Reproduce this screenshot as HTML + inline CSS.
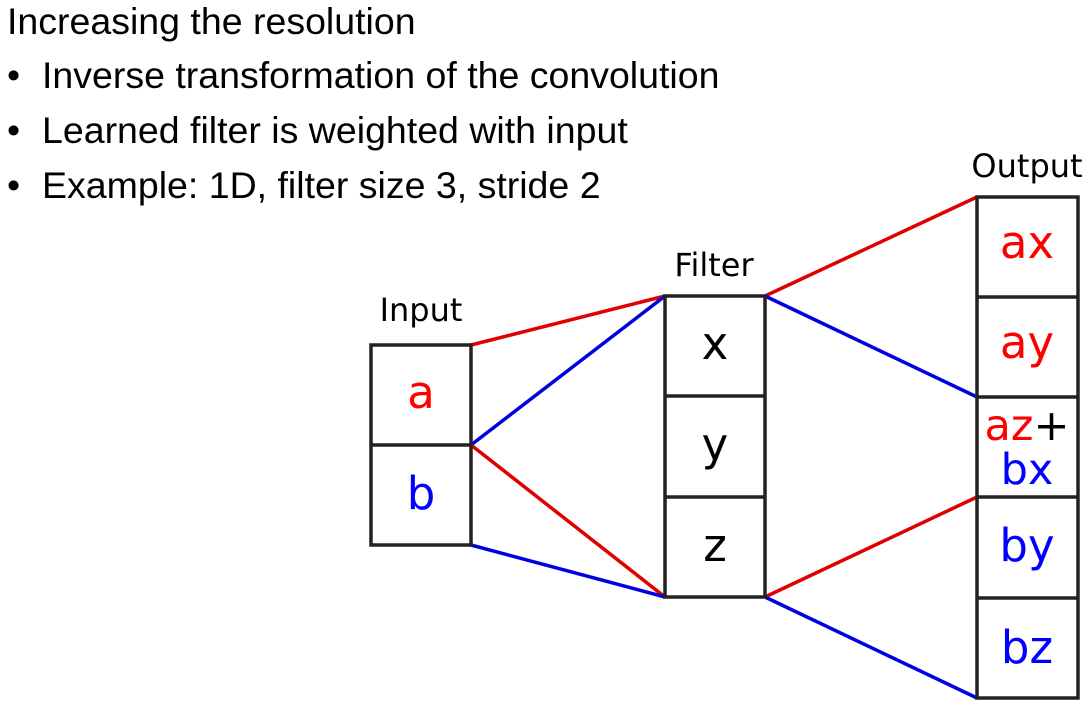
<!DOCTYPE html>
<html><head><style>
html,body{margin:0;padding:0;background:#fff;width:1089px;height:709px;overflow:hidden}
</style></head><body>
<svg width="1089" height="709" xmlns="http://www.w3.org/2000/svg">
<g font-family="Liberation Sans, sans-serif" font-size="37.5" fill="#000">
<text x="7" y="34">Increasing the resolution</text>
<text x="7" y="88">•</text><text x="42" y="88">Inverse transformation of the convolution</text>
<text x="7" y="143">•</text><text x="42" y="143">Learned filter is weighted with input</text>
<text x="7" y="198">•</text><text x="42" y="198">Example: 1D, filter size 3, stride 2</text>
</g>
<g stroke-width="3.5" fill="none">
<line x1="471" y1="345" x2="665" y2="296" stroke="#e00000"/>
<line x1="471" y1="445" x2="665" y2="296" stroke="#0000e0"/>
<line x1="471" y1="445" x2="665" y2="597" stroke="#e00000"/>
<line x1="471" y1="545" x2="665" y2="597" stroke="#0000e0"/>
<line x1="765" y1="296" x2="977" y2="197" stroke="#e00000"/>
<line x1="765" y1="296" x2="977" y2="397" stroke="#0000e0"/>
<line x1="765" y1="597" x2="977" y2="497" stroke="#e00000"/>
<line x1="765" y1="597" x2="977" y2="698" stroke="#0000e0"/>
</g>
<g stroke="#222" stroke-width="3.5" fill="none">
<rect x="371" y="345" width="100" height="200"/><line x1="371" y1="445" x2="471" y2="445"/>
<rect x="665" y="296" width="100" height="301"/><line x1="665" y1="396" x2="765" y2="396"/><line x1="665" y1="497" x2="765" y2="497"/>
<rect x="977" y="197" width="101" height="501"/>
<line x1="977" y1="297" x2="1078" y2="297"/><line x1="977" y1="397" x2="1078" y2="397"/><line x1="977" y1="497" x2="1078" y2="497"/><line x1="977" y1="598" x2="1078" y2="598"/>
</g>
<g font-family="DejaVu Sans, sans-serif" text-anchor="middle">
<text x="421" y="321" font-size="32">Input</text>
<text x="714" y="276" font-size="32">Filter</text>
<text x="1027" y="177" font-size="32">Output</text>
<g font-size="45">
<text x="421" y="408" fill="#f00">a</text>
<text x="421" y="509" fill="#00f">b</text>
<text x="715" y="359">x</text>
<text x="715" y="460">y</text>
<text x="715" y="561">z</text>
<text x="1027" y="258" fill="#f00">ax</text>
<text x="1027" y="358" fill="#f00">ay</text>
<text x="1027" y="561" fill="#00f">by</text>
<text x="1027" y="663" fill="#00f">bz</text>
</g>
<text x="1027" y="440" font-size="43"><tspan fill="#f00">az</tspan><tspan fill="#000">+</tspan></text>
<text x="1027" y="484" font-size="43" fill="#00f">bx</text>
</g>
</svg>
</body></html>
